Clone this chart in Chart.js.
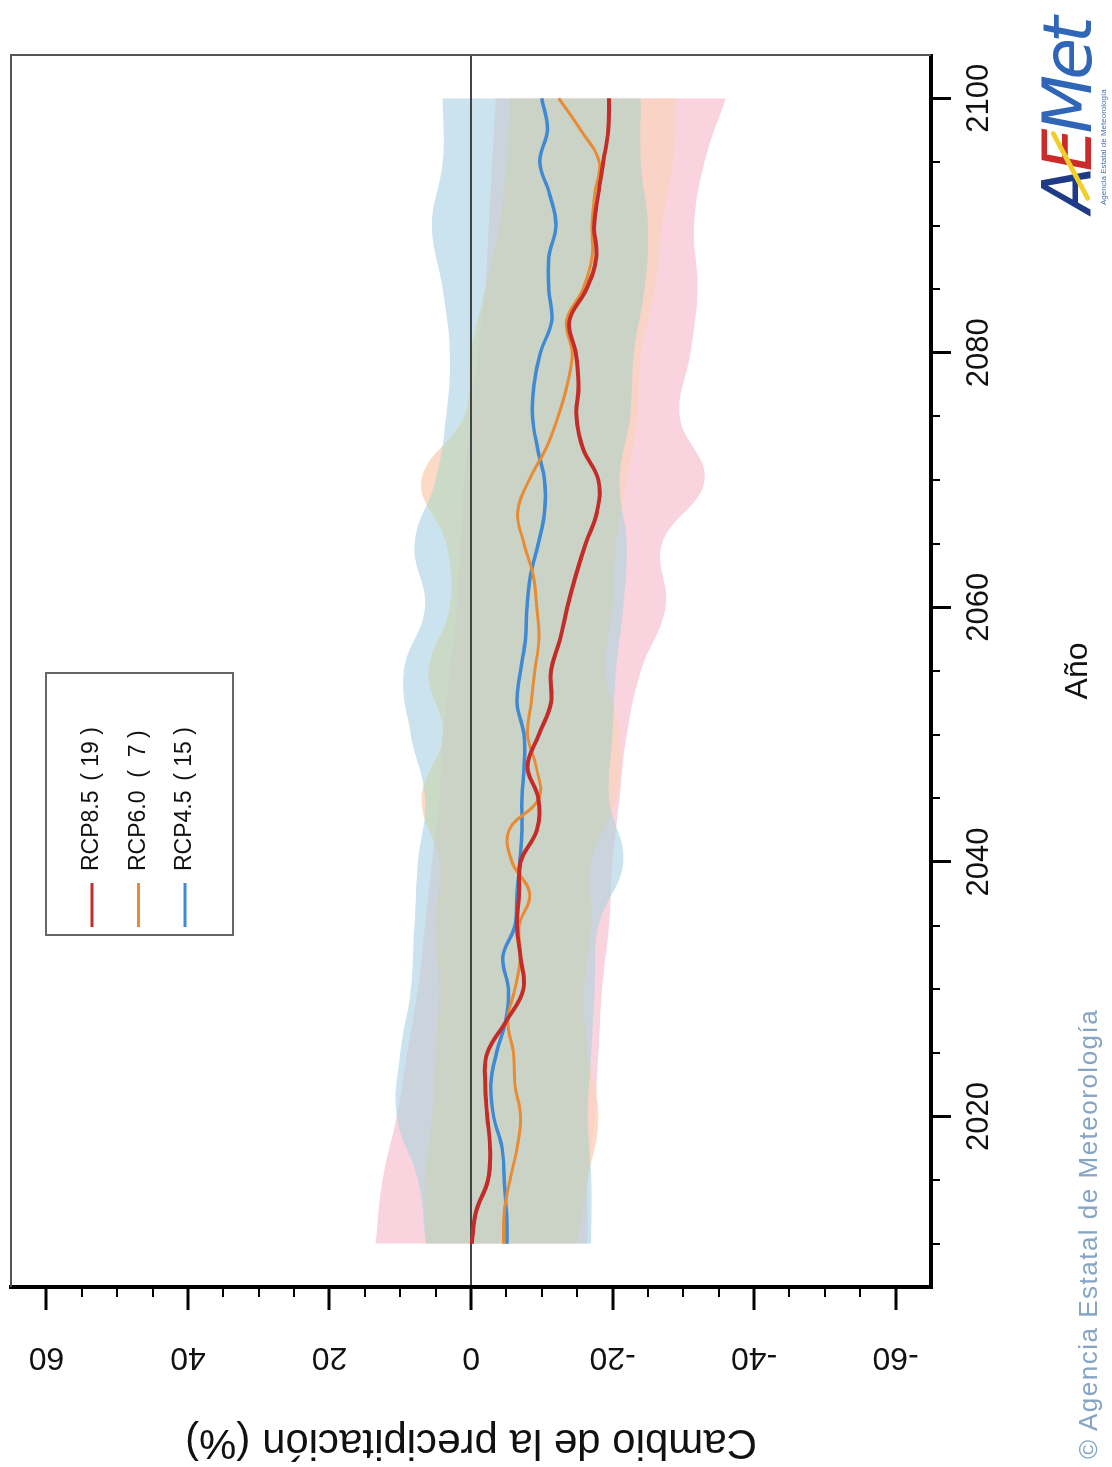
<!DOCTYPE html>
<html lang="es">
<head>
<meta charset="utf-8">
<title>Cambio de la precipitación (%)</title>
<script src="https://cdn.jsdelivr.net/npm/chart.js@4.4.1/dist/chart.umd.min.js"></script>
<style>
  html, body { margin: 0; padding: 0; background: #fff; overflow: hidden; }
  /* el grafico se dibuja apaisado y se gira 90 grados, como la imagen original */
  #lienzo { position: absolute; left: 0; top: 0; width: 1467px; height: 1112px;
            transform-origin: 0 0; transform: translate(0, 1467px) rotate(-90deg); }
  #grafico { position: absolute; left: 0; top: 0; }
  .copy { position: absolute; left: 8px; top: 1073px; font: 26px "Liberation Sans", Arial, sans-serif;
          color: #86a4c4; white-space: nowrap; letter-spacing: 1.5px; }
  .logo { position: absolute; left: 1254px; top: 1034px; font: italic 68px/68px "DejaVu Sans", sans-serif;
          color: #2f66b8; white-space: nowrap; letter-spacing: -5px; }
  .logo .a { color: #1f3a86; }
  .logo .e { color: #cc2b2b; }
  .raya { position: absolute; left: 1262px; top: 1068px; width: 78px; height: 5px; background: #f0cf2a;
          transform: rotate(-28deg); border-radius: 3px; }
  .sub { position: absolute; left: 1262px; top: 1099px; font: 8px "Liberation Sans", Arial, sans-serif;
         color: #4a72b0; white-space: nowrap; }
</style>
</head>
<body>
<div id="lienzo">
  <canvas id="grafico" width="1467" height="1112"></canvas>
  <div class="copy">© Agencia Estatal de Meteorología</div>
  <div class="logo"><span class="a">A</span><span class="e">E</span>Met</div>
  <div class="raya"></div>
  <div class="sub">Agencia Estatal de Meteorología</div>
</div>
<script>
// años de las medias (cada 2,5 años)
const anios = [2010, 2012.5, 2015, 2017.5, 2020, 2022.5, 2025, 2027.5, 2030, 2032.5, 2035, 2037.5,
  2040, 2042.5, 2045, 2047.5, 2050, 2052.5, 2055, 2057.5, 2060, 2062.5, 2065, 2067.5, 2070,
  2072.5, 2075, 2077.5, 2080, 2082.5, 2085, 2087.5, 2090, 2092.5, 2095, 2097.5, 2100];

const rcp85 = [-0.1, -0.7, -2.4, -2.7, -2.3, -2.0, -2.3, -5.0, -7.4, -7.0, -6.5, -6.8, -7.0, -9.3,
  -9.5, -8.0, -9.6, -11.3, -11.3, -12.6, -13.6, -14.8, -16.2, -17.8, -18.0, -15.8, -14.9, -15.2,
  -14.8, -13.9, -16.3, -17.7, -17.4, -18.0, -18.7, -19.4, -19.5];
const rcp60 = [-4.6, -4.7, -5.5, -6.5, -7.0, -6.2, -6.0, -5.2, -6.2, -7.0, -6.8, -8.3, -5.8, -5.4,
  -9.6, -9.2, -8.0, -8.5, -9.0, -9.6, -9.3, -8.8, -7.5, -6.6, -8.2, -10.6, -12.3, -13.6, -14.3,
  -13.5, -15.8, -17.1, -17.1, -17.5, -18.1, -15.5, -12.4];
const rcp45 = [-5.1, -5.0, -4.7, -4.4, -3.2, -2.8, -3.6, -4.9, -5.3, -4.5, -6.2, -6.5, -6.9, -7.2,
  -7.2, -7.5, -7.5, -6.5, -7.0, -7.7, -7.9, -8.4, -9.5, -10.4, -10.4, -9.4, -8.7, -8.9, -9.8,
  -11.4, -11.0, -11.0, -12.0, -11.1, -9.7, -10.8, -10.0];

// dispersion de los modelos (cada 5 años)
const aniosBanda = [2010, 2015, 2020, 2025, 2030, 2035, 2040, 2045, 2050, 2055, 2060, 2065, 2070,
  2075, 2080, 2085, 2090, 2095, 2100];
const rcp85Max = [13.5, 12.5, 10.5, 9.0, 7.5, 6.5, 5.5, 4.5, 4.0, 3.0, 2.0, 1.5, 1.0, 0.0, -1.0, -2.0, -2.5, -3.0, -3.5];
const rcp85Min = [-16.5, -16.5, -17.5, -18.0, -18.5, -19.5, -20.0, -21.0, -22.0, -24.0, -27.5, -27.0, -33.0, -29.5, -31.0, -32.0, -31.5, -33.0, -36.0];
const rcp60Max = [6.4, 6.5, 5.5, 5.0, 4.5, 5.0, 4.5, 7.0, 4.0, 6.0, 3.0, 3.5, 7.0, 1.0, 0.0, -2.0, -4.0, -5.0, -5.5];
const rcp60Min = [-15.0, -16.5, -18.0, -16.5, -16.0, -17.0, -17.0, -20.5, -21.0, -19.0, -20.0, -20.5, -22.0, -23.5, -24.0, -26.0, -27.0, -28.5, -29.0];
const rcp45Max = [6.4, 7.5, 10.5, 10.0, 8.5, 8.0, 7.5, 6.5, 8.5, 9.5, 6.5, 8.0, 5.0, 3.5, 3.0, 4.0, 5.5, 4.0, 4.0];
const rcp45Min = [-17.0, -17.0, -16.5, -17.0, -17.5, -18.0, -21.5, -19.5, -20.0, -20.5, -21.5, -22.0, -21.0, -22.5, -23.0, -24.5, -25.0, -24.0, -24.0];

// ejes
const ticksAnio = [2020, 2040, 2060, 2080, 2100];
const ticksAnioMenor = [2010, 2015, 2025, 2030, 2035, 2045, 2050, 2055, 2065, 2070, 2075, 2085, 2090, 2095];
const ticksValor = [-60, -40, -20, 0, 20, 40, 60];
const ticksValorMenor = [-55, -50, -45, -35, -30, -25, -15, -10, -5, 5, 10, 15, 25, 30, 35, 45, 50, 55];

// leyenda
const escenarios = ['RCP8.5', 'RCP6.0', 'RCP4.5'];
const numModelos = ['( 19 )', '(  7 )', '( 15 )'];
const coloresLinea = ['#c42c2a', '#e88b35', '#3f8ad2'];
const coloresBanda = ['#f9d3dd', '#fcdac6', '#cbe3ee'];

const fuente = '"Liberation Sans", Arial, sans-serif';

function puntos(xs, ys) {
  return xs.map((x, i) => ({ x: x, y: ys[i] }));
}

function banda(xs, ys, color, relleno, orden) {
  return {
    data: puntos(xs, ys),
    borderWidth: 0,
    borderColor: 'rgba(0,0,0,0)',
    backgroundColor: color,
    pointRadius: 0,
    tension: 0.4,
    fill: relleno,
    order: orden
  };
}

function linea(ys, color, ancho, orden) {
  return {
    data: puntos(anios, ys),
    borderColor: color,
    borderWidth: ancho,
    pointRadius: 0,
    tension: 0.4,
    fill: false,
    order: orden
  };
}

function sinRelleno(s) {
  s.paddingTop = 0;
  s.paddingBottom = 0;
  s.paddingLeft = 0;
  s.paddingRight = 0;
}

// las bandas se mezclan con "darken" para que el solape quede gris
const mezcla = {
  id: 'mezcla',
  beforeDraw(chart) {
    chart.ctx.globalCompositeOperation = 'darken';
  },
  beforeDatasetsDraw(chart) {
    chart.ctx.globalCompositeOperation = 'source-over';
  }
};

const marco = {
  id: 'marco',
  afterDraw(chart) {
    const ctx = chart.ctx;
    const a = chart.chartArea;
    const sx = chart.scales.x;
    const sy = chart.scales.y;
    ctx.save();
    ctx.strokeStyle = '#555';
    ctx.lineWidth = 2;
    ctx.beginPath();
    ctx.moveTo(a.left, a.top);
    ctx.lineTo(a.right, a.top);
    ctx.lineTo(a.right, a.bottom);
    ctx.stroke();

    // marcas menores
    ctx.strokeStyle = '#000';
    ctx.lineWidth = 2;
    ctx.beginPath();
    ticksAnioMenor.forEach(v => {
      const px = Math.round(sx.getPixelForValue(v));
      ctx.moveTo(px, a.bottom);
      ctx.lineTo(px, a.bottom + 9);
    });
    ticksValorMenor.forEach(v => {
      const py = Math.round(sy.getPixelForValue(v));
      ctx.moveTo(a.left, py);
      ctx.lineTo(a.left - 10, py);
    });
    ctx.stroke();

    // leyenda
    const lx = 532, ly = 46, lw = 262, lh = 187;
    ctx.strokeStyle = '#666';
    ctx.lineWidth = 2;
    ctx.strokeRect(lx, ly, lw, lh);
    ctx.font = '23px ' + fuente;
    ctx.textBaseline = 'middle';
    ctx.fillStyle = '#111';
    escenarios.forEach((nombre, i) => {
      const y = ly + 46 + i * 46.5;
      ctx.strokeStyle = coloresLinea[i];
      ctx.lineWidth = 3;
      ctx.beginPath();
      ctx.moveTo(lx + 8, y);
      ctx.lineTo(lx + 52, y);
      ctx.stroke();
      ctx.textAlign = 'left';
      ctx.fillText(nombre, lx + 64, y);
      ctx.textAlign = 'center';
      ctx.fillText(numModelos[i], lx + 181, y);
    });
    ctx.restore();
  }
};

new Chart(document.getElementById('grafico'), {
  type: 'line',
  data: {
    datasets: [
      linea(rcp85, coloresLinea[0], 4, 0),
      linea(rcp60, coloresLinea[1], 3, 1),
      linea(rcp45, coloresLinea[2], 3.5, 2),
      banda(aniosBanda, rcp45Max, coloresBanda[2], '+1', 10),
      banda(aniosBanda, rcp45Min, coloresBanda[2], false, 10),
      banda(aniosBanda, rcp60Max, coloresBanda[1], '+1', 11),
      banda(aniosBanda, rcp60Min, coloresBanda[1], false, 11),
      banda(aniosBanda, rcp85Max, coloresBanda[0], '+1', 12),
      banda(aniosBanda, rcp85Min, coloresBanda[0], false, 12)
    ]
  },
  options: {
    responsive: false,
    animation: false,
    devicePixelRatio: 1,
    layout: { padding: { left: 0, right: 55, top: 11, bottom: 0 } },
    plugins: {
      legend: { display: false },
      tooltip: { enabled: false },
      filler: { drawTime: 'beforeDatasetsDraw' }
    },
    scales: {
      x: {
        type: 'linear',
        min: 2006.6,
        max: 2103.4,
        afterBuildTicks: s => { s.ticks = ticksAnio.map(v => ({ value: v })); },
        afterFit: s => { s.height = 181; sinRelleno(s); },
        border: { display: true, color: '#000', width: 4 },
        grid: { drawOnChartArea: false, drawTicks: true, tickLength: 20, tickColor: '#000', tickWidth: 3 },
        ticks: { color: '#111', font: { family: fuente, size: 31 }, padding: 10, maxRotation: 0,
                 callback: v => String(v) },
        title: { display: true, text: 'Año', color: '#111', font: { family: fuente, size: 32 },
                 padding: { top: 0, bottom: 15 } }
      },
      y: {
        type: 'linear',
        min: -65,
        max: 65,
        afterBuildTicks: s => { s.ticks = ticksValor.map(v => ({ value: v })); },
        afterFit: s => { s.width = 180; sinRelleno(s); },
        border: { display: true, color: '#000', width: 4 },
        grid: {
          drawOnChartArea: true,
          color: c => (c.tick && c.tick.value === 0) ? '#444' : 'rgba(0,0,0,0)',
          lineWidth: 2,
          tickLength: 23, tickColor: '#000', tickWidth: 3
        },
        ticks: { color: '#111', font: { family: fuente, size: 32 }, padding: 24,
                 minRotation: 90, maxRotation: 90, crossAlign: 'center',
                 callback: v => String(v) },
        title: { display: true, text: 'Cambio de la precipitación (%)', color: '#111',
                 font: { family: fuente, size: 42 }, padding: { top: 0, bottom: 0 } }
      }
    }
  },
  plugins: [mezcla, marco]
});
</script>
</body>
</html>
